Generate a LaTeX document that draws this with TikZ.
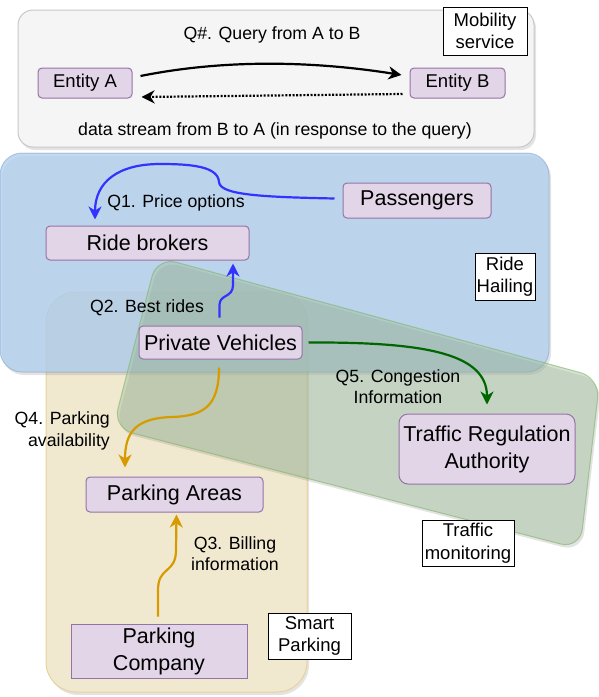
\documentclass[tikz,border=0pt]{standalone}
\usepackage{fontspec}
\setmainfont{Liberation Sans}
\usetikzlibrary{arrows.meta,calc,shadows}
\definecolor{nodefill}{HTML}{E1D5E7}
\definecolor{nodedraw}{HTML}{9673A6}
\definecolor{topfill}{HTML}{F5F5F5}
\definecolor{topdraw}{HTML}{C8C8C8}
\definecolor{bluefill}{RGB}{178,208,238}
\definecolor{bluedraw}{HTML}{6C8EBF}
\definecolor{greenfill}{RGB}{160,192,158}
\definecolor{greendraw}{HTML}{82B366}
\definecolor{yelfill}{RGB}{241,232,208}
\definecolor{yeldraw}{HTML}{E6D29A}
\definecolor{qblue}{HTML}{3333FF}
\definecolor{qorange}{HTML}{D79B00}
\definecolor{qgreen}{HTML}{006600}
\tikzset{
  shad/.style={drop shadow={opacity=0.22,shadow xshift=2pt,shadow yshift=-3pt}},
  entbox/.style={draw=nodedraw,fill=nodefill,line width=1pt,rounded corners=4pt,inner sep=0pt,align=center},
  bigtext/.style={font=\fontsize{21.5}{27}\selectfont},
  enttext/.style={font=\fontsize{18.5}{22}\selectfont},
  lblbox/.style={draw=black,fill=white,line width=1pt,inner sep=0pt,align=center,font=\fontsize{18.5}{22.5}\selectfont},
  lbltext/.style={inner sep=0pt,align=center,font=\fontsize{17.7}{21.2}\selectfont},
  qarrow/.style={line width=2.2pt,-{Stealth[length=13pt,width=13pt,inset=4pt]}},
}
\begin{document}
\begin{tikzpicture}[x=1pt,y=-1pt]
\useasboundingbox (0,0) rectangle (598,697);

% containers
\draw[shad,fill=topfill,draw=topdraw,line width=1pt,rounded corners=15pt] (18,10) rectangle (534,147);
\draw[shad,fill=yelfill,draw=yeldraw,line width=1pt,rounded corners=30pt] (46,292) rectangle (307,692);
\draw[shad,fill=bluefill,fill opacity=0.8,draw=bluedraw,draw opacity=0.4,line width=1pt,rounded corners=22pt] (0,153) rectangle (549,372);
\draw[shad,fill=greenfill,fill opacity=0.45,draw=greendraw,draw opacity=0.6,line width=1pt,rounded corners=20pt]
  (157,257) -- (600,378) -- (580,549) -- (113,428) -- cycle;

% labels of containers
\node[lblbox,minimum width=84pt,minimum height=48pt] (mob) at (485,31) {Mobility\\service};
\node[lblbox,minimum width=60pt,minimum height=47pt] (rideh) at (505,276.5) {Ride\\Hailing};
\node[lblbox,minimum width=92pt,minimum height=46pt] (trafmon) at (468,543) {Traffic\\monitoring};
\node[lblbox,minimum width=83pt,minimum height=46pt] (smartp) at (309.5,636) {Smart\\Parking};

% entities
\node[entbox,enttext,minimum width=94pt,minimum height=30pt] (entA) at (85,83) {Entity A};
\node[entbox,enttext,minimum width=95pt,minimum height=30pt] (entB) at (457.5,83) {Entity B};
\node[entbox,bigtext,minimum width=148pt,minimum height=35pt] (pass) at (417,200.5) {Passengers};
\node[entbox,bigtext,minimum width=203pt,minimum height=34pt] (rideb) at (147.5,243) {Ride brokers};
\node[entbox,bigtext,minimum width=163pt,minimum height=33pt] (privv) at (220.5,342.5) {Private Vehicles};
\node[entbox,bigtext,minimum width=176pt,minimum height=70pt,rounded corners=9pt] (tra) at (487,449) {Traffic Regulation\\Authority};
\node[entbox,bigtext,minimum width=177pt,minimum height=35pt] (parkA) at (174.5,494.5) {Parking Areas};
\node[entbox,bigtext,minimum width=176pt,minimum height=54pt,rounded corners=0pt] (parkC) at (159,651) {Parking\\Company};

% edge labels
\node[lbltext] (lq) at (272,35) {Q\#. Query from A to B};
\node[lbltext] (ld) at (275,131) {data stream from B to A (in response to the query)};
\node[lbltext] (l1) at (176,203) {Q1. Price options};
\node[lbltext] (l2) at (147,308) {Q2. Best rides};
\node[lbltext] (l5) at (398,387) {Q5. Congestion\\Information};
\node[lbltext,align=right,anchor=east] (l4) at (110,431) {Q4. Parking\\availability};
\node[lbltext] (l3) at (235,554) {Q3. Billing\\information};

% legend arrows
\draw[qarrow,black] ($(entA.east)+(8,-7)$) .. controls (230,58) and (320,62) .. ($(entB.west)+(-8,-8)$);
\draw[qarrow,black,dash pattern=on 2pt off 1.6pt] ($(entB.west)+(-7,11)$) -- ($(entA.east)+(9,14)$);

% Q1
\draw[qarrow,qblue] ($(pass.west)+(-8,-2)$) .. controls (262,197) and (220,195) .. (219,182)
  .. controls (218,166) and (190,164) .. (160,164)
  .. controls (118,164) and (95,182) .. ($(rideb.north)+(-52.5,-6)$);
% Q2
\draw[qarrow,qblue] ($(privv.north)+(-1,-8)$) -- (219.5,305) .. controls (219.5,294) and (233,298) .. (233,285) -- ($(rideb.south)+(85.5,3)$);
% Q5
\draw[qarrow,qgreen] ($(privv.east)+(6,0)$) .. controls (420,342) and (487,352) .. ($(tra.north)+(0,-9)$);
% Q4
\draw[qarrow,qorange] ($(privv.south)+(-1.5,8)$) .. controls (219,405) and (205,416) .. (172,417)
  .. controls (136,418) and (125,432) .. ($(parkA.north)+(-49.5,-9)$);
% Q3
\draw[qarrow,qorange] ($(parkC.north)+(-1,-7)$) -- (158,590) .. controls (158,566) and (176,574) .. (176,550) -- ($(parkA.south)+(2,2)$);
\end{tikzpicture}
\end{document}
